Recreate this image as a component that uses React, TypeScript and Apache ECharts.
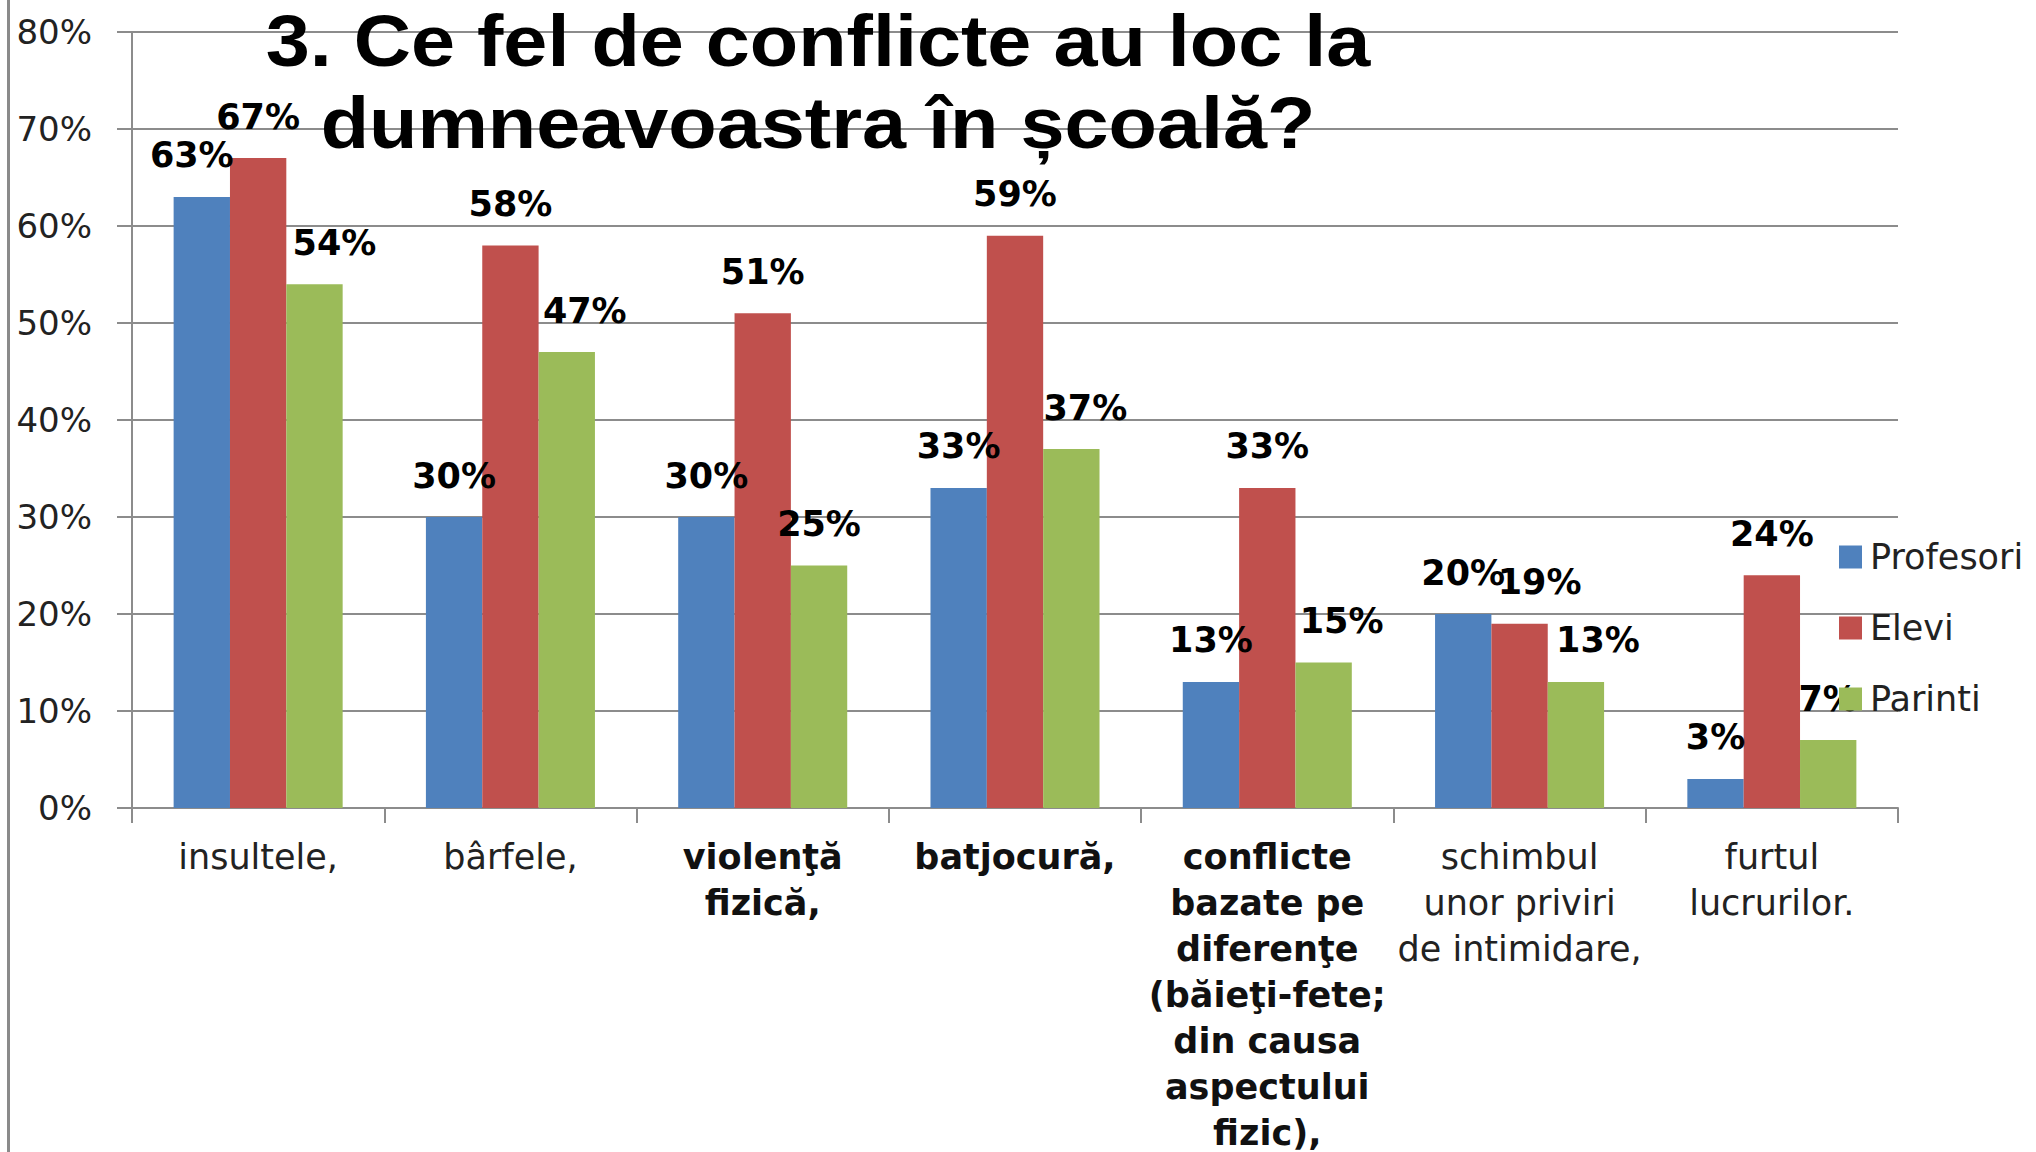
import React, { useEffect, useRef } from "react";
import * as echarts from "echarts";

const categories = [
  "insultele,",
  "bârfele,",
  "violenţă\nfizică,",
  "batjocură,",
  "conflicte\nbazate pe\ndiferenţe\n(băieţi-fete;\ndin causa\naspectului\nfizic),",
  "schimbul\nunor priviri\nde intimidare,",
  "furtul\nlucrurilor.",
];
const boldCategories = [2, 3, 4];
const seriesNames = ["Profesori", "Elevi", "Parinti"];
const profesori = [63, 30, 30, 33, 13, 20, 3];
const elevi = [67, 58, 51, 59, 33, 19, 24];
const parinti = [54, 47, 25, 37, 15, 13, 7];
const colors = ["#4F81BD", "#C0504D", "#9BBB59"];
const titleText = "3. Ce fel de conflicte au loc la\ndumneavoastra în școală?";

// label nudges (styling only), keyed by series index then category index
const labelNudge: Record<number, Record<number, number>> = {
  0: { 0: -10 },
  1: { 5: 20 },
  2: { 0: 20, 1: 18, 3: 14, 4: 18, 5: 22 },
};

const FONT = "DejaVu Sans";

export default function App() {
  const ref = useRef<HTMLDivElement>(null);
  useEffect(() => {
    if (!ref.current) return;
    const chart = echarts.init(ref.current, null, { renderer: "svg" });
    const values = [profesori, elevi, parinti];
    const labelBase = {
      show: true,
      position: "top",
      distance: 24,
      fontFamily: FONT,
      fontSize: 35,
      fontWeight: "bold",
      color: "#000",
      formatter: "{c}%",
    };
    chart.setOption({
      animation: false,
      backgroundColor: "#fff",
      grid: { left: 132, right: 138, top: 32, bottom: 344, containLabel: false },
      legend: {
        orient: "vertical",
        left: 1834,
        top: 532,
        itemWidth: 23,
        itemHeight: 23,
        itemGap: 31,
        icon: "rect",
        selectedMode: false,
        textStyle: { fontFamily: FONT, fontSize: 35, color: "#222", lineHeight: 40, padding: [0, 0, 0, 3] },
        data: seriesNames,
      },
      xAxis: {
        type: "category",
        data: categories,
        axisLine: { show: true, lineStyle: { color: "#8c8c8c", width: 2 } },
        axisTick: { show: true, length: 15, lineStyle: { color: "#8c8c8c", width: 2 } },
        axisLabel: {
          interval: 0,
          margin: 26,
          formatter: (val: string, idx: number) => {
            const s = boldCategories.includes(idx) ? "b" : "r";
            return val
              .split("\n")
              .map((l) => `{${s}|${l}}`)
              .join("\n");
          },
          rich: {
            r: { fontFamily: FONT, fontSize: 35, lineHeight: 46, color: "#222" },
            b: { fontFamily: FONT, fontSize: 35, lineHeight: 46, color: "#111", fontWeight: "bold" },
          },
        },
      },
      yAxis: {
        type: "value",
        min: 0,
        max: 80,
        interval: 10,
        axisLine: { show: true, lineStyle: { color: "#8c8c8c", width: 2 } },
        axisTick: { show: true, length: 15, lineStyle: { color: "#8c8c8c", width: 2 } },
        splitLine: { show: true, lineStyle: { color: "#8c8c8c", width: 2 } },
        axisLabel: {
          margin: 40,
          formatter: "{value}%",
          fontFamily: FONT,
          fontSize: 34,
          color: "#222",
        },
      },
      series: seriesNames.map((name, i) => ({
        name,
        type: "bar",
        data: values[i].map((v, j) => {
          const dx = (labelNudge[i] || {})[j];
          return dx ? { value: v, label: { offset: [dx, 0] } } : v;
        }),
        barGap: "0%",
        barCategoryGap: "33%",
        itemStyle: { color: colors[i] },
        label: { ...labelBase },
      })),
      graphic: [
        {
          type: "rect",
          shape: { x: 7, y: 0, width: 3, height: 1152 },
          style: { fill: "#8a8a8a" },
          z: 10,
        },
        {
          type: "text",
          x: 818,
          y: 0,
          scaleX: 1.1,
          z: 20,
          style: {
            text: titleText,
            fontFamily: "Liberation Sans",
            fontSize: 72,
            fontWeight: "bold",
            lineHeight: 82,
            fill: "#000",
            align: "center",
            verticalAlign: "top",
          },
        },
      ],
    });
    return () => chart.dispose();
  }, []);
  return (
    <div
      ref={ref}
      style={{ position: "absolute", left: 0, top: 0, width: 2036, height: 1152 }}
    />
  );
}
